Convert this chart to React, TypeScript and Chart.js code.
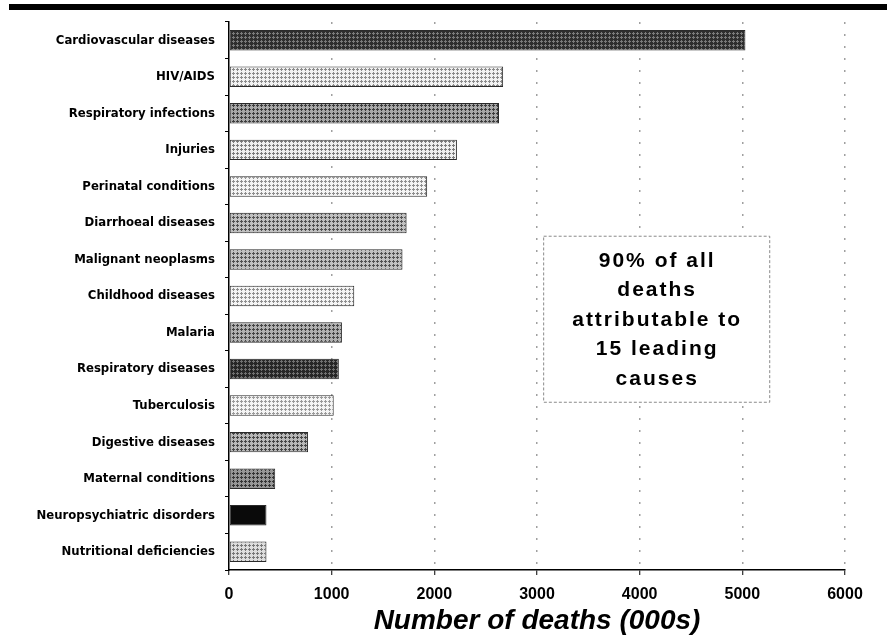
import React, { useEffect, useRef } from 'react';
import { Chart, registerables } from 'chart.js';

Chart.register(...registerables);

const categories = [
  'Cardiovascular diseases',
  'HIV/AIDS',
  'Respiratory infections',
  'Injuries',
  'Perinatal conditions',
  'Diarrhoeal diseases',
  'Malignant neoplasms',
  'Childhood diseases',
  'Malaria',
  'Respiratory diseases',
  'Tuberculosis',
  'Digestive diseases',
  'Maternal conditions',
  'Neuropsychiatric disorders',
  'Nutritional deficiencies',
];

const deaths = [5030, 2670, 2630, 2220, 1930, 1730, 1690, 1220, 1100, 1070, 1020, 770, 450, 365, 365];

const xTicks = [0, 1000, 2000, 3000, 4000, 5000, 6000];

const xTitle = 'Number of deaths (000s)';

const noteLines = ['90% of all', 'deaths', 'attributable to', '15 leading', 'causes'];

// bar textures: [background, cross colour]
const fills: [string, string][] = [
  ['#2e2e2e', '#7a7a7a'],
  ['#f2f2f2', '#8a8a8a'],
  ['#a8a8a8', '#3c3c3c'],
  ['#eeeeee', '#7a7a7a'],
  ['#f4f4f4', '#8e8e8e'],
  ['#c0c0c0', '#505050'],
  ['#c0c0c0', '#505050'],
  ['#f4f4f4', '#8e8e8e'],
  ['#b0b0b0', '#444444'],
  ['#262626', '#707070'],
  ['#f4f4f4', '#999999'],
  ['#b8b8b8', '#444444'],
  ['#969696', '#333333'],
  ['#0a0a0a', '#0a0a0a'],
  ['#dddddd', '#777777'],
];

function makePattern(bg: string, fg: string): CanvasPattern | string {
  const c = document.createElement('canvas');
  c.width = 4;
  c.height = 4;
  const g = c.getContext('2d');
  if (!g) return bg;
  g.fillStyle = bg;
  g.fillRect(0, 0, 4, 4);
  g.fillStyle = fg;
  g.fillRect(1, 0, 1, 3);
  g.fillRect(0, 1, 3, 1);
  const p = g.createPattern(c, 'repeat');
  return p || bg;
}

const SANS = '"Liberation Sans", Arial, sans-serif';
const NARROW = '"Liberation Sans Narrow", "Arial Narrow", "DejaVu Sans Condensed", sans-serif';

const decor = {
  id: 'decor',
  afterDraw(chart: any) {
    const ctx: CanvasRenderingContext2D = chart.ctx;
    const ca = chart.chartArea;
    ctx.save();
    // top rule
    ctx.fillStyle = '#000';
    ctx.fillRect(9, 4, chart.width - 9, 6);

    // note box
    const w = ca.right - ca.left;
    const h = ca.bottom - ca.top;
    const bx1 = ca.left + w * 0.51;
    const bx2 = ca.left + w * 0.877;
    const by1 = ca.top + h * 0.39;
    const by2 = ca.top + h * 0.693;
    ctx.fillStyle = '#fff';
    ctx.fillRect(bx1, by1, bx2 - bx1, by2 - by1);
    ctx.strokeStyle = '#8a8a8a';
    ctx.lineWidth = 1;
    ctx.setLineDash([3, 2]);
    ctx.strokeRect(bx1 + 0.5, by1 + 0.5, bx2 - bx1, by2 - by1);
    ctx.setLineDash([]);

    ctx.fillStyle = '#000';
    ctx.font = `bold 21px ${SANS}`;
    (ctx as any).letterSpacing = '2px';
    ctx.textAlign = 'center';
    ctx.textBaseline = 'alphabetic';
    const cx = (bx1 + bx2) / 2;
    const base0 = by1 + 31;
    noteLines.forEach((line, i) => {
      ctx.fillText(line, cx + 1, base0 + i * 29.5);
    });
    (ctx as any).letterSpacing = '0px';
    ctx.restore();
  },
};

export default function App() {
  const ref = useRef<HTMLCanvasElement>(null);
  useEffect(() => {
    document.body.style.margin = '0';
    const canvas = ref.current;
    if (!canvas) return;
    const patterns = fills.map(([bg, fg]) => makePattern(bg, fg));
    const chart = new Chart(canvas, {
      type: 'bar',
      data: {
        labels: categories,
        datasets: [
          {
            data: deaths,
            backgroundColor: patterns as any,
            borderColor: '#2a2a2a',
            borderWidth: 1,
            borderSkipped: false,
            categoryPercentage: 1,
            barPercentage: 0.56,
          },
        ],
      },
      options: {
        indexAxis: 'y',
        responsive: false,
        animation: false,
        devicePixelRatio: 1,
        layout: { padding: { top: 22, right: 42, left: 0, bottom: 0 } },
        plugins: { legend: { display: false }, tooltip: { enabled: false } },
        scales: {
          x: {
            type: 'linear',
            position: 'bottom',
            min: 0,
            max: 6000,
            afterBuildTicks: (s: any) => {
              s.ticks = xTicks.map((v) => ({ value: v }));
            },
            afterFit: (s: any) => {
              s.height = 70;
            },
            grid: {
              color: (c: any) => (c.tick && c.tick.value === 0 ? 'rgba(0,0,0,0)' : '#a0a0a0'),
              lineWidth: 1.5,
              drawTicks: true,
              tickLength: 5,
              tickColor: '#000',
              tickWidth: 1,
              tickBorderDash: [],
            },
            border: { display: true, color: '#000', width: 1.5, dash: [2, 10] },
            ticks: {
              color: '#000',
              font: { family: SANS, size: 16, weight: 'bold' },
              padding: 10,
              maxRotation: 0,
              callback: (v: any) => String(v),
            },
            title: {
              display: true,
              text: xTitle,
              color: '#000',
              font: { family: SANS, size: 28, weight: 'bold', style: 'italic' },
              padding: { top: 0, bottom: 2 },
            },
          },
          y: {
            type: 'category',
            afterFit: (s: any) => {
              s.width = 229;
            },
            grid: {
              display: true,
              drawOnChartArea: false,
              drawTicks: true,
              tickLength: 4,
              tickColor: '#000',
              offset: true,
            },
            border: { display: true, color: '#000', width: 1.5 },
            ticks: {
              color: '#000',
              font: { family: NARROW, size: 13, weight: 'bold' },
              padding: 10,
              autoSkip: false,
            },
          },
        },
      },
      plugins: [decor],
    } as any);
    return () => chart.destroy();
  }, []);
  return (
    <div style={{ width: 887, height: 640 }}>
      <canvas ref={ref} width={887} height={640} />
    </div>
  );
}
